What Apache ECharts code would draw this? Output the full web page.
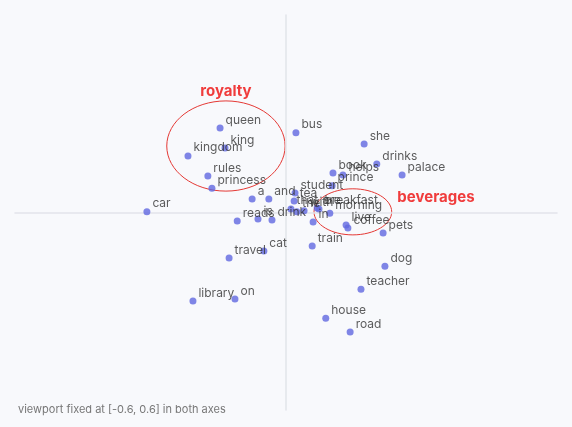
<!DOCTYPE html><html><head><meta charset="utf-8">
<script src="https://cdn.jsdelivr.net/npm/echarts@6/dist/echarts.min.js"></script>
<style>html,body{margin:0;background:#f8f9fc}#c{width:572px;height:427px}</style></head><body><div id="c"></div>
<script>
const words=["queen","king","kingdom","rules","princess","bus","she","drinks","book","helps","palace","prince","student","a","and","tea","that","the","with","are","breakfast","morning","reads","is","drink","in","live","coffee","pets","car","train","cat","travel","dog","teacher","library","on","house","road"];
const xs=[-0.146,-0.135,-0.217,-0.173,-0.164,0.022,0.173,0.201,0.104,0.126,0.257,0.102,0.020,-0.075,-0.038,0.018,0.011,0.024,0.040,0.069,0.073,0.097,-0.108,-0.062,-0.031,0.060,0.133,0.137,0.215,-0.308,0.058,-0.049,-0.126,0.219,0.166,-0.206,-0.113,0.088,0.142];
const ys=[0.257,0.196,0.172,0.111,0.074,0.242,0.208,0.147,0.120,0.114,0.114,0.081,0.059,0.041,0.041,0.035,0.011,0.002,0.005,0.014,0.011,-0.002,-0.026,-0.020,-0.023,-0.029,-0.038,-0.047,-0.062,0.002,-0.102,-0.117,-0.138,-0.163,-0.233,-0.269,-0.263,-0.321,-0.363];
const clusters=[{name:"royalty",cx:-0.133,cy:0.202,rx:0.131,ry:0.137,lx:-0.133,ly:0.368},{name:"beverages",cx:0.148,cy:0.002,rx:0.086,ry:0.070,lx:0.332,ly:0.047}];
const chart=echarts.init(document.getElementById('c'));
const ax={min:-0.6,max:0.6,axisLabel:{show:false},axisTick:{show:false},splitLine:{show:false},axisLine:{onZero:true,lineStyle:{color:'#e2e4ea',width:1.5}}};
chart.setOption({backgroundColor:'#f8f9fc',animation:false,
grid:{left:15,right:15,top:15,bottom:17},
xAxis:Object.assign({type:'value'},ax),yAxis:Object.assign({type:'value'},ax),
series:[{type:'scatter',symbolSize:7,itemStyle:{color:'#6068e0'},
data:words.map((w,i)=>({value:[xs[i],ys[i]],name:w})),
label:{show:true,formatter:'{b}',position:'right',distance:2,offset:[0,-8],color:'#333',fontSize:12,fontFamily:'Inter'}}]});
const g=[];
clusters.forEach(c=>{const p=chart.convertToPixel({gridIndex:0},[c.cx,c.cy]);const q=chart.convertToPixel({gridIndex:0},[c.cx+c.rx,c.cy+c.ry]);
g.push({type:'ellipse',shape:{cx:p[0],cy:p[1],rx:Math.abs(q[0]-p[0]),ry:Math.abs(q[1]-p[1])},style:{fill:'none',stroke:'#e53935',lineWidth:1}});
const l=chart.convertToPixel({gridIndex:0},[c.lx,c.ly]);
g.push({type:'text',x:l[0],y:l[1],style:{text:c.name,fill:'#f03c3c',font:'bold 15px Inter',align:'center',verticalAlign:'middle'}});});
g.push({type:'text',left:18,top:404,style:{text:'viewport fixed at [-0.6, 0.6] in both axes',fill:'#777',font:'11px Inter'}});
chart.setOption({graphic:g});
</script></body></html>
